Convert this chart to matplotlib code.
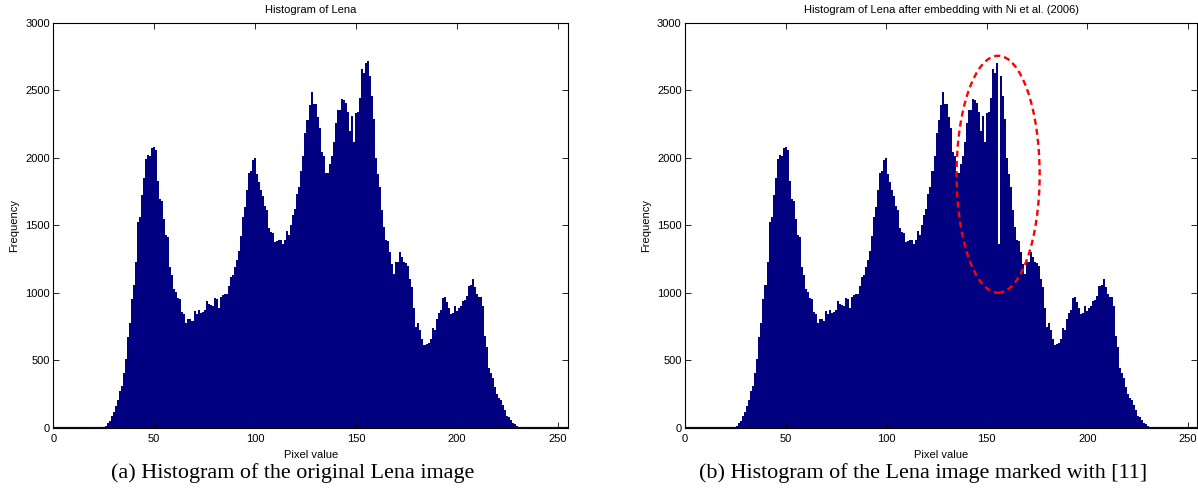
#!/usr/bin/env python3
"""Two 256-bin grey-level histograms of Lena: original and after Ni et al. embedding."""

import numpy as np
import matplotlib
matplotlib.use("Agg")
import matplotlib.pyplot as plt
from matplotlib.patches import Ellipse

# grey levels 0..255 (one bar per level)
pixel_levels = np.arange(256)

# counts, 16 levels per row
lena_counts = [
    0, 0, 0, 0, 0, 0, 0, 0, 0, 0, 0, 0, 0, 0, 0, 0,                                        # 0-15
    0, 0, 0, 0, 0, 0, 0, 0, 0, 5, 15, 35, 55, 85, 120, 160,                                # 16-31
    210, 275, 310, 410, 510, 675, 775, 955, 1060, 1230, 1525, 1565, 1725, 1850, 1990, 2020,  # 32-47
    2010, 2075, 2080, 2060, 1825, 1695, 1680, 1545, 1430, 1410, 1195, 1130, 1025, 1005, 965, 955,  # 48-63
    855, 845, 780, 810, 805, 795, 865, 840, 875, 850, 855, 870, 940, 920, 910, 900,         # 64-79
    960, 955, 890, 970, 985, 995, 995, 1050, 1120, 1130, 1190, 1240, 1310, 1420, 1565, 1635,  # 80-95
    1760, 1890, 1905, 1985, 1995, 1880, 1820, 1760, 1720, 1640, 1610, 1480, 1450, 1440, 1375, 1385,  # 96-111
    1390, 1390, 1360, 1395, 1460, 1430, 1500, 1575, 1620, 1730, 1780, 1900, 2010, 2180, 2280, 2390,  # 112-127
    2485, 2400, 2400, 2300, 2220, 2040, 2010, 1890, 1885, 1955, 2015, 2120, 2255, 2355, 2350, 2435,  # 128-143
    2430, 2405, 2340, 2195, 2310, 2120, 2330, 2340, 2440, 2655, 2625, 2700, 2715, 2605, 2460, 2285,  # 144-159
    1995, 1880, 1780, 1615, 1490, 1390, 1385, 1300, 1215, 1140, 1230, 1230, 1305, 1265, 1230, 1220,  # 160-175
    1200, 1100, 1045, 885, 750, 780, 725, 655, 615, 625, 630, 655, 740, 725, 805, 850,      # 176-191
    875, 965, 970, 935, 885, 840, 850, 900, 865, 885, 900, 940, 945, 975, 1050, 1060,       # 192-207
    1105, 1040, 990, 970, 970, 900, 680, 600, 445, 410, 370, 300, 250, 225, 205, 170,       # 208-223
    135, 90, 80, 60, 40, 27, 15, 10, 5, 3, 0, 0, 0, 0, 0, 0,                                # 224-239
    0, 0, 0, 0, 0, 0, 0, 0, 0, 0, 0, 0, 0, 0, 0, 0,                                        # 240-255
]

# counts (one emptied bin next to the peak)
marked_counts = [
    0, 0, 0, 0, 0, 0, 0, 0, 0, 0, 0, 0, 0, 0, 0, 0,
    0, 0, 0, 0, 0, 0, 0, 0, 0, 5, 15, 35, 55, 85, 120, 160,
    210, 275, 310, 410, 510, 675, 775, 955, 1060, 1230, 1525, 1565, 1725, 1850, 1990, 2020,
    2010, 2075, 2080, 2060, 1825, 1695, 1680, 1545, 1430, 1410, 1195, 1130, 1025, 1005, 965, 955,
    855, 845, 780, 810, 805, 795, 865, 840, 875, 850, 855, 870, 940, 920, 910, 900,
    960, 955, 890, 970, 985, 995, 995, 1050, 1120, 1130, 1190, 1240, 1310, 1420, 1565, 1635,
    1760, 1890, 1905, 1985, 1995, 1880, 1820, 1760, 1720, 1640, 1610, 1480, 1450, 1440, 1375, 1385,
    1390, 1390, 1360, 1395, 1460, 1430, 1500, 1575, 1620, 1730, 1780, 1900, 2010, 2180, 2280, 2390,
    2485, 2400, 2400, 2300, 2220, 2040, 2010, 1890, 1885, 1955, 2015, 2120, 2255, 2355, 2350, 2435,
    2430, 2405, 2340, 2195, 2310, 2120, 2330, 2340, 2440, 2655, 2625, 2700, 1360, 2605, 2460, 2285,
    1995, 1880, 1780, 1615, 1490, 1390, 1385, 1300, 1215, 1140, 1230, 1230, 1305, 1265, 1230, 1220,
    1200, 1100, 1045, 885, 750, 780, 725, 655, 615, 625, 630, 655, 740, 725, 805, 850,
    875, 965, 970, 935, 885, 840, 850, 900, 865, 885, 900, 940, 945, 975, 1050, 1060,
    1105, 1040, 990, 970, 970, 900, 680, 600, 445, 410, 370, 300, 250, 225, 205, 170,
    135, 90, 80, 60, 40, 27, 15, 10, 5, 3, 0, 0, 0, 0, 0, 0,
    0, 0, 0, 0, 0, 0, 0, 0, 0, 0, 0, 0, 0, 0, 0, 0,
]

x_ticks = [0, 50, 100, 150, 200, 250]
y_ticks = [0, 500, 1000, 1500, 2000, 2500, 3000]

titles = ["Histogram of Lena",
          "Histogram of Lena after embedding with Ni et al. (2006)"]
captions = ["(a) Histogram of the original Lena image",
            "(b) Histogram of the Lena image marked with [11]"]

# region altered by the embedding (drawn as a dashed ellipse)
mark_centre = (155.6, 1878)
mark_size = (41.3, 1754)

assert len(lena_counts) == 256 and len(marked_counts) == 256

plt.rcParams['font.family'] = ['Liberation Sans', 'DejaVu Sans']
BAR_COLOR = '#000080'

fig = plt.figure(figsize=(11.98, 4.95), dpi=100)
ax_a = fig.add_axes([0.0445, 0.1354, 0.4299, 0.8188])
ax_b = fig.add_axes([0.5718, 0.1354, 0.4276, 0.8188])

edges = np.append(pixel_levels - 0.5, 255.5)

for ax, counts, title, xmax in [(ax_a, lena_counts, titles[0], 255.3),
                                (ax_b, marked_counts, titles[1], 254.6)]:
    ax.stairs(counts, edges, fill=True, color=BAR_COLOR, linewidth=0)
    ax.axhline(0, color=BAR_COLOR, linewidth=1.6, zorder=3)
    ax.set_xlim(0, xmax)
    ax.set_ylim(0, 3000)
    ax.set_xticks(x_ticks)
    ax.set_yticks(y_ticks)
    ax.tick_params(direction='in', top=True, right=True, length=4, width=0.6,
                   labelsize=8)
    ax.tick_params(axis='x', pad=4.5)
    ax.tick_params(axis='y', pad=2.4)
    ax.set_title(title, fontsize=8, pad=7.3)
    ax.set_xlabel('Pixel value', fontsize=8, labelpad=4)
    ax.set_ylabel('Frequency', fontsize=8, labelpad=4.5)
    for s in ax.spines.values():
        s.set_linewidth(0.8)

ax_b.add_patch(Ellipse(mark_centre, mark_size[0], mark_size[1], fill=False,
                       edgecolor='red', linewidth=1.7,
                       linestyle=(0, (2.6, 1.7)), zorder=4))

fig.text(0.2439, 0.0337, captions[0], ha='center', va='baseline',
         family=['Liberation Serif', 'DejaVu Serif'], fontsize=15.9)
fig.text(0.7709, 0.0337, captions[1], ha='center', va='baseline',
         family=['Liberation Serif', 'DejaVu Serif'], fontsize=15.9)

fig.savefig('out.png', dpi=100)
